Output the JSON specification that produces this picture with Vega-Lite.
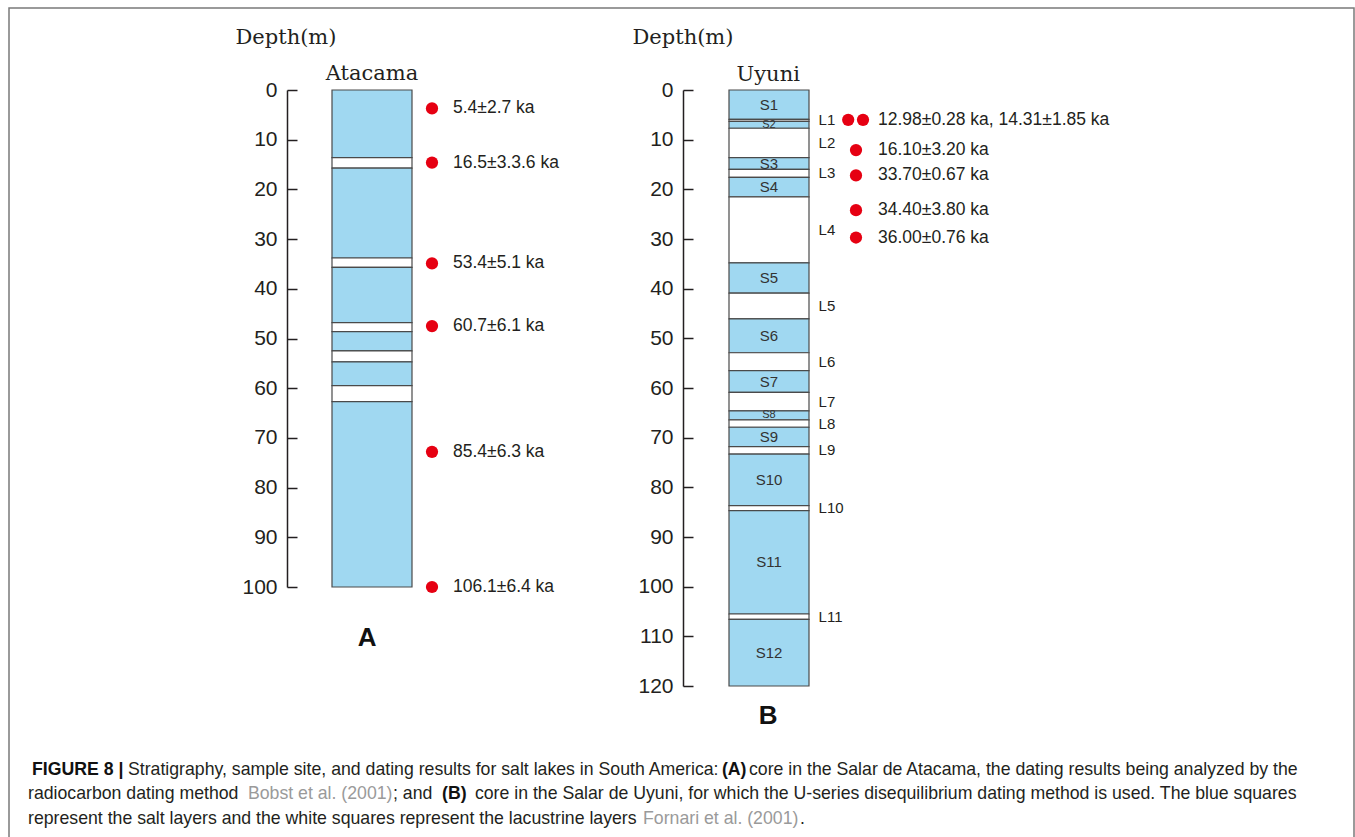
{
  "$schema": "https://vega.github.io/schema/vega-lite/v6.json",
  "width": 1345,
  "height": 830,
  "autosize": {"type": "none"},
  "padding": {"left": 9, "top": 8, "right": 1, "bottom": 0},
  "background": "white",
  "config": {
    "view": {"stroke": "#7a7a7a", "strokeWidth": 1.5},
    "text": {"font": "Liberation Sans"}
  },
  "datasets": {
    "atacamaLayers": [
      {"kind": "salt", "top": 0, "bottom": 13.6},
      {"kind": "lacustrine", "top": 13.6, "bottom": 15.7},
      {"kind": "salt", "top": 15.7, "bottom": 33.8},
      {"kind": "lacustrine", "top": 33.8, "bottom": 35.7},
      {"kind": "salt", "top": 35.7, "bottom": 46.8},
      {"kind": "lacustrine", "top": 46.8, "bottom": 48.6},
      {"kind": "salt", "top": 48.6, "bottom": 52.5},
      {"kind": "lacustrine", "top": 52.5, "bottom": 54.7},
      {"kind": "salt", "top": 54.7, "bottom": 59.5},
      {"kind": "lacustrine", "top": 59.5, "bottom": 62.7},
      {"kind": "salt", "top": 62.7, "bottom": 100}
    ],
    "uyuniLayers": [
      {"name": "S1", "kind": "salt", "top": 0, "bottom": 5.9},
      {"name": "L1", "kind": "lacustrine", "top": 5.9, "bottom": 6.3},
      {"name": "S2", "kind": "salt", "top": 6.3, "bottom": 7.7},
      {"name": "L2", "kind": "lacustrine", "top": 7.7, "bottom": 13.6},
      {"name": "S3", "kind": "salt", "top": 13.6, "bottom": 16.0},
      {"name": "L3", "kind": "lacustrine", "top": 16.0, "bottom": 17.6},
      {"name": "S4", "kind": "salt", "top": 17.6, "bottom": 21.5},
      {"name": "L4", "kind": "lacustrine", "top": 21.5, "bottom": 34.8},
      {"name": "S5", "kind": "salt", "top": 34.8, "bottom": 40.9},
      {"name": "L5", "kind": "lacustrine", "top": 40.9, "bottom": 46.1},
      {"name": "S6", "kind": "salt", "top": 46.1, "bottom": 52.9},
      {"name": "L6", "kind": "lacustrine", "top": 52.9, "bottom": 56.5},
      {"name": "S7", "kind": "salt", "top": 56.5, "bottom": 60.9},
      {"name": "L7", "kind": "lacustrine", "top": 60.9, "bottom": 64.6},
      {"name": "S8", "kind": "salt", "top": 64.6, "bottom": 66.4},
      {"name": "L8", "kind": "lacustrine", "top": 66.4, "bottom": 67.9},
      {"name": "S9", "kind": "salt", "top": 67.9, "bottom": 71.8},
      {"name": "L9", "kind": "lacustrine", "top": 71.8, "bottom": 73.3},
      {"name": "S10", "kind": "salt", "top": 73.3, "bottom": 83.7},
      {"name": "L10", "kind": "lacustrine", "top": 83.7, "bottom": 84.7},
      {"name": "S11", "kind": "salt", "top": 84.7, "bottom": 105.5},
      {"name": "L11", "kind": "lacustrine", "top": 105.5, "bottom": 106.6},
      {"name": "S12", "kind": "salt", "top": 106.6, "bottom": 120}
    ],
    "atacamaDates": [
      {"age": "5.4±2.7 ka", "depth": 3.7},
      {"age": "16.5±3.3.6 ka", "depth": 14.6},
      {"age": "53.4±5.1 ka", "depth": 34.9},
      {"age": "60.7±6.1 ka", "depth": 47.5},
      {"age": "85.4±6.3 ka", "depth": 72.8},
      {"age": "106.1±6.4 ka", "depth": 100}
    ],
    "uyuniDates": [
      {"age": "12.98±0.28 ka", "depth": 6.0},
      {"age": "14.31±1.85 ka", "depth": 6.0},
      {"age": "16.10±3.20 ka", "depth": 12.1},
      {"age": "33.70±0.67 ka", "depth": 17.2},
      {"age": "34.40±3.80 ka", "depth": 24.2},
      {"age": "36.00±0.76 ka", "depth": 29.7}
    ],
    "uyuniDateLabels": [
      {"text": "12.98±0.28 ka, 14.31±1.85 ka", "depth": 6.0},
      {"text": "16.10±3.20 ka", "depth": 12.1},
      {"text": "33.70±0.67 ka", "depth": 17.2},
      {"text": "34.40±3.80 ka", "depth": 24.2},
      {"text": "36.00±0.76 ka", "depth": 29.7}
    ],
    "cores": [
      {"core": "Atacama", "panel": "A"},
      {"core": "Uyuni", "panel": "B"}
    ],
    "caption": [
      {"seg": 1, "line": 1, "t": "FIGURE 8 |"},
      {"seg": 2, "line": 1, "t": "Stratigraphy, sample site, and dating results for salt lakes in South America:"},
      {"seg": 3, "line": 1, "t": "(A)"},
      {"seg": 4, "line": 1, "t": "core in the Salar de Atacama, the dating results being analyzed by the"},
      {"seg": 5, "line": 2, "t": "radiocarbon dating method"},
      {"seg": 6, "line": 2, "t": "Bobst et al. (2001)"},
      {"seg": 7, "line": 2, "t": "; and"},
      {"seg": 8, "line": 2, "t": "(B)"},
      {"seg": 9, "line": 2, "t": "core in the Salar de Uyuni, for which the U-series disequilibrium dating method is used. The blue squares"},
      {"seg": 10, "line": 3, "t": "represent the salt layers and the white squares represent the lacustrine layers"},
      {"seg": 11, "line": 3, "t": "Fornari et al. (2001)"},
      {"seg": 12, "line": 3, "t": "."}
    ]
  },
  "layer": [
    {
      "layer": [
        {
          "data": {"name": "atacamaLayers"},
          "mark": {"type": "rect", "stroke": "#4a4a4a", "strokeWidth": 1.2},
          "encoding": {
            "x": {"datum": 0, "type": "quantitative", "scale": {"domain": [0, 1], "range": [323, 403], "nice": false, "zero": false}, "axis": null},
            "x2": {"datum": 1},
            "y": {
              "field": "top", "type": "quantitative",
              "scale": {"domain": [0, 100], "range": [82, 579], "nice": false, "zero": false},
              "axis": {
                "orient": "left", "offset": -278,
                "values": [0, 10, 20, 30, 40, 50, 60, 70, 80, 90, 100],
                "grid": false, "labelFlush": false, "labelOverlap": false,
                "title": "Depth(m)", "titleAngle": 0, "titleAlign": "left", "titleBaseline": "alphabetic",
                "titleX": -52, "titleY": 35, "titleFont": "DejaVu Serif", "titleFontSize": 21, "titleFontWeight": "normal", "titleColor": "#231f20",
                "labelFont": "Liberation Sans", "labelFontSize": 21, "labelColor": "#231f20", "labelPadding": 20,
                "tickSize": -10, "tickWidth": 1.5, "tickColor": "#231f20", "domainColor": "#231f20", "domainWidth": 1.5
              }
            },
            "y2": {"field": "bottom"},
            "fill": {"field": "kind", "type": "nominal", "scale": {"domain": ["salt", "lacustrine"], "range": ["#a0d8f1", "#ffffff"]}, "legend": null}
          }
        },
        {
          "data": {"name": "atacamaDates"},
          "mark": {"type": "circle", "size": 150, "color": "#e60012", "opacity": 1},
          "encoding": {
            "x": {"datum": 1.25, "type": "quantitative", "axis": null},
            "y": {"field": "depth", "type": "quantitative"}
          }
        },
        {
          "data": {"name": "atacamaDates"},
          "mark": {"type": "text", "align": "left", "baseline": "middle", "fontSize": 17.5, "color": "#231f20"},
          "encoding": {
            "x": {"datum": 1.5125, "type": "quantitative", "axis": null},
            "y": {"field": "depth", "type": "quantitative"},
            "text": {"field": "age"}
          }
        },
        {
          "data": {"name": "cores"},
          "transform": [{"filter": "datum.panel == 'A'"}],
          "mark": {"type": "text", "font": "DejaVu Serif", "fontSize": 21, "align": "center", "baseline": "alphabetic", "color": "#231f20"},
          "encoding": {
            "x": {"datum": 0.5, "type": "quantitative", "axis": null},
            "y": {"datum": -2, "type": "quantitative"},
            "text": {"field": "core"}
          }
        },
        {
          "data": {"name": "cores"},
          "transform": [{"filter": "datum.panel == 'A'"}],
          "mark": {"type": "text", "fontSize": 26, "fontWeight": "bold", "align": "center", "baseline": "middle", "color": "#111111"},
          "encoding": {
            "x": {"datum": 0.44, "type": "quantitative", "axis": null},
            "y": {"datum": 110.2, "type": "quantitative"},
            "text": {"field": "panel"}
          }
        }
      ]
    },
    {
      "layer": [
        {
          "data": {"name": "uyuniLayers"},
          "mark": {"type": "rect", "stroke": "#4a4a4a", "strokeWidth": 1.2},
          "encoding": {
            "x": {"datum": 0, "type": "quantitative", "scale": {"domain": [0, 1], "range": [720, 800], "nice": false, "zero": false}, "axis": null},
            "x2": {"datum": 1},
            "y": {
              "field": "top", "type": "quantitative",
              "scale": {"domain": [0, 120], "range": [82, 678], "nice": false, "zero": false},
              "axis": {
                "orient": "left", "offset": -674,
                "values": [0, 10, 20, 30, 40, 50, 60, 70, 80, 90, 100, 110, 120],
                "grid": false, "labelFlush": false, "labelOverlap": false,
                "title": "Depth(m)", "titleAngle": 0, "titleAlign": "left", "titleBaseline": "alphabetic",
                "titleX": -51, "titleY": 35, "titleFont": "DejaVu Serif", "titleFontSize": 21, "titleFontWeight": "normal", "titleColor": "#231f20",
                "labelFont": "Liberation Sans", "labelFontSize": 21, "labelColor": "#231f20", "labelPadding": 20,
                "tickSize": -10, "tickWidth": 1.5, "tickColor": "#231f20", "domainColor": "#231f20", "domainWidth": 1.5
              }
            },
            "y2": {"field": "bottom"},
            "fill": {"field": "kind", "type": "nominal", "scale": {"domain": ["salt", "lacustrine"], "range": ["#a0d8f1", "#ffffff"]}, "legend": null}
          }
        },
        {
          "data": {"name": "uyuniLayers"},
          "transform": [
            {"fold": ["top", "bottom"], "as": ["edge", "d"]},
            {"aggregate": [{"op": "mean", "field": "d", "as": "mid"}], "groupby": ["name", "kind"]},
            {"filter": "datum.kind == 'salt' && datum.name != 'S2' && datum.name != 'S8'"}
          ],
          "mark": {"type": "text", "align": "center", "baseline": "middle", "fontSize": 15, "color": "#333333"},
          "encoding": {
            "x": {"datum": 0.5, "type": "quantitative", "axis": null},
            "y": {"field": "mid", "type": "quantitative"},
            "text": {"field": "name"}
          }
        },
        {
          "data": {"name": "uyuniLayers"},
          "transform": [
            {"fold": ["top", "bottom"], "as": ["edge", "d"]},
            {"aggregate": [{"op": "mean", "field": "d", "as": "mid"}], "groupby": ["name", "kind"]},
            {"filter": "datum.name == 'S2' || datum.name == 'S8'"}
          ],
          "mark": {"type": "text", "align": "center", "baseline": "middle", "fontSize": 11, "color": "#333333"},
          "encoding": {
            "x": {"datum": 0.5, "type": "quantitative", "axis": null},
            "y": {"field": "mid", "type": "quantitative"},
            "text": {"field": "name"}
          }
        },
        {
          "data": {"name": "uyuniLayers"},
          "transform": [
            {"fold": ["top", "bottom"], "as": ["edge", "d"]},
            {"aggregate": [{"op": "mean", "field": "d", "as": "mid"}], "groupby": ["name", "kind"]},
            {"filter": "datum.kind == 'lacustrine'"}
          ],
          "mark": {"type": "text", "align": "left", "baseline": "middle", "fontSize": 15, "color": "#231f20"},
          "encoding": {
            "x": {"datum": 1.12, "type": "quantitative", "axis": null},
            "y": {"field": "mid", "type": "quantitative"},
            "text": {"field": "name"}
          }
        },
        {
          "data": {"name": "uyuniDates"},
          "transform": [{"filter": "datum.age == '12.98±0.28 ka'"}],
          "mark": {"type": "circle", "size": 150, "color": "#e60012", "opacity": 1},
          "encoding": {
            "x": {"datum": 1.49, "type": "quantitative", "axis": null},
            "y": {"field": "depth", "type": "quantitative"}
          }
        },
        {
          "data": {"name": "uyuniDates"},
          "transform": [{"filter": "datum.age == '14.31±1.85 ka'"}],
          "mark": {"type": "circle", "size": 150, "color": "#e60012", "opacity": 1},
          "encoding": {
            "x": {"datum": 1.675, "type": "quantitative", "axis": null},
            "y": {"field": "depth", "type": "quantitative"}
          }
        },
        {
          "data": {"name": "uyuniDates"},
          "transform": [{"filter": "datum.age != '12.98±0.28 ka' && datum.age != '14.31±1.85 ka'"}],
          "mark": {"type": "circle", "size": 150, "color": "#e60012", "opacity": 1},
          "encoding": {
            "x": {"datum": 1.5875, "type": "quantitative", "axis": null},
            "y": {"field": "depth", "type": "quantitative"}
          }
        },
        {
          "data": {"name": "uyuniDateLabels"},
          "mark": {"type": "text", "align": "left", "baseline": "middle", "fontSize": 17.5, "color": "#231f20"},
          "encoding": {
            "x": {"datum": 1.8625, "type": "quantitative", "axis": null},
            "y": {"field": "depth", "type": "quantitative"},
            "text": {"field": "text"}
          }
        },
        {
          "data": {"name": "cores"},
          "transform": [{"filter": "datum.panel == 'B'"}],
          "mark": {"type": "text", "font": "DejaVu Serif", "fontSize": 21, "align": "center", "baseline": "alphabetic", "color": "#231f20"},
          "encoding": {
            "x": {"datum": 0.49, "type": "quantitative", "axis": null},
            "y": {"datum": -1.8, "type": "quantitative"},
            "text": {"field": "core"}
          }
        },
        {
          "data": {"name": "cores"},
          "transform": [{"filter": "datum.panel == 'B'"}],
          "mark": {"type": "text", "fontSize": 26, "fontWeight": "bold", "align": "center", "baseline": "middle", "color": "#111111"},
          "encoding": {
            "x": {"datum": 0.49, "type": "quantitative", "axis": null},
            "y": {"datum": 126, "type": "quantitative"},
            "text": {"field": "panel"}
          }
        }
      ]
    },
    {
      "data": {"name": "caption"},
      "layer": [
        {
          "transform": [{"filter": "datum.seg == 1"}],
          "mark": {"type": "text", "align": "left", "baseline": "alphabetic", "fontSize": 17.7, "fontWeight": "bold", "color": "#111111"},
          "encoding": {
            "x": {"datum": 0.31, "type": "quantitative", "scale": {"domain": [0, 100], "range": [19, 1319], "nice": false, "zero": false}, "axis": null},
            "y": {"field": "line", "type": "quantitative", "scale": {"domain": [1, 3], "range": [767, 815.5], "nice": false, "zero": false}, "axis": null},
            "text": {"field": "t"}
          }
        },
        {
          "transform": [{"filter": "datum.seg == 2"}],
          "mark": {"type": "text", "align": "left", "baseline": "alphabetic", "fontSize": 17.7, "color": "#231f20"},
          "encoding": {"x": {"datum": 7.69, "type": "quantitative", "axis": null}, "y": {"field": "line", "type": "quantitative", "axis": null}, "text": {"field": "t"}}
        },
        {
          "transform": [{"filter": "datum.seg == 3"}],
          "mark": {"type": "text", "align": "left", "baseline": "alphabetic", "fontSize": 17.7, "fontWeight": "bold", "color": "#111111"},
          "encoding": {"x": {"datum": 53.38, "type": "quantitative", "axis": null}, "y": {"field": "line", "type": "quantitative", "axis": null}, "text": {"field": "t"}}
        },
        {
          "transform": [{"filter": "datum.seg == 4"}],
          "mark": {"type": "text", "align": "left", "baseline": "alphabetic", "fontSize": 17.7, "color": "#231f20"},
          "encoding": {"x": {"datum": 55.46, "type": "quantitative", "axis": null}, "y": {"field": "line", "type": "quantitative", "axis": null}, "text": {"field": "t"}}
        },
        {
          "transform": [{"filter": "datum.seg == 5"}],
          "mark": {"type": "text", "align": "left", "baseline": "alphabetic", "fontSize": 17.7, "color": "#231f20"},
          "encoding": {"x": {"datum": 0, "type": "quantitative", "axis": null}, "y": {"field": "line", "type": "quantitative", "axis": null}, "text": {"field": "t"}}
        },
        {
          "transform": [{"filter": "datum.seg == 6"}],
          "mark": {"type": "text", "align": "left", "baseline": "alphabetic", "fontSize": 17.7, "color": "#9a9a9a"},
          "encoding": {"x": {"datum": 16.92, "type": "quantitative", "axis": null}, "y": {"field": "line", "type": "quantitative", "axis": null}, "text": {"field": "t"}}
        },
        {
          "transform": [{"filter": "datum.seg == 7"}],
          "mark": {"type": "text", "align": "left", "baseline": "alphabetic", "fontSize": 17.7, "color": "#231f20"},
          "encoding": {"x": {"datum": 28.08, "type": "quantitative", "axis": null}, "y": {"field": "line", "type": "quantitative", "axis": null}, "text": {"field": "t"}}
        },
        {
          "transform": [{"filter": "datum.seg == 8"}],
          "mark": {"type": "text", "align": "left", "baseline": "alphabetic", "fontSize": 17.7, "fontWeight": "bold", "color": "#111111"},
          "encoding": {"x": {"datum": 31.85, "type": "quantitative", "axis": null}, "y": {"field": "line", "type": "quantitative", "axis": null}, "text": {"field": "t"}}
        },
        {
          "transform": [{"filter": "datum.seg == 9"}],
          "mark": {"type": "text", "align": "left", "baseline": "alphabetic", "fontSize": 17.7, "color": "#231f20"},
          "encoding": {"x": {"datum": 34.38, "type": "quantitative", "axis": null}, "y": {"field": "line", "type": "quantitative", "axis": null}, "text": {"field": "t"}}
        },
        {
          "transform": [{"filter": "datum.seg == 10"}],
          "mark": {"type": "text", "align": "left", "baseline": "alphabetic", "fontSize": 17.7, "color": "#231f20"},
          "encoding": {"x": {"datum": 0, "type": "quantitative", "axis": null}, "y": {"field": "line", "type": "quantitative", "axis": null}, "text": {"field": "t"}}
        },
        {
          "transform": [{"filter": "datum.seg == 11"}],
          "mark": {"type": "text", "align": "left", "baseline": "alphabetic", "fontSize": 17.7, "color": "#9a9a9a"},
          "encoding": {"x": {"datum": 47.31, "type": "quantitative", "axis": null}, "y": {"field": "line", "type": "quantitative", "axis": null}, "text": {"field": "t"}}
        },
        {
          "transform": [{"filter": "datum.seg == 12"}],
          "mark": {"type": "text", "align": "left", "baseline": "alphabetic", "fontSize": 17.7, "color": "#231f20"},
          "encoding": {"x": {"datum": 59.38, "type": "quantitative", "axis": null}, "y": {"field": "line", "type": "quantitative", "axis": null}, "text": {"field": "t"}}
        }
      ]
    }
  ],
  "resolve": {"scale": {"x": "independent", "y": "independent", "fill": "shared"}, "axis": {"y": "independent"}}
}
